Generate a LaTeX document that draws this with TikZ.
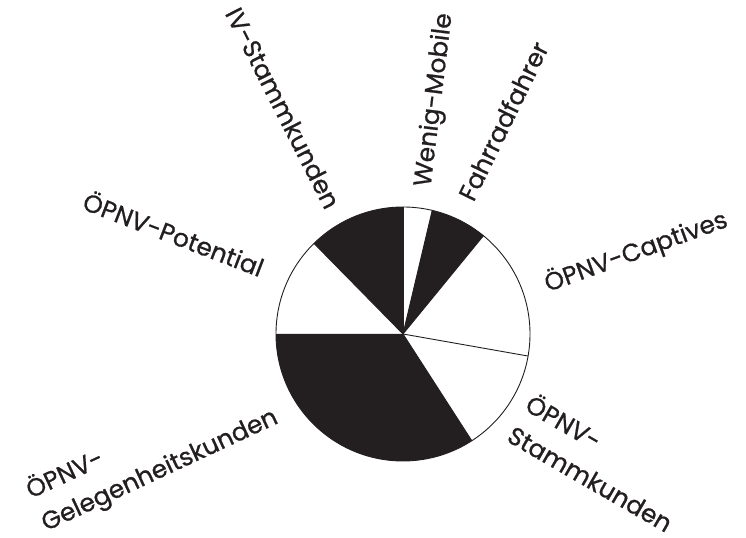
\documentclass[tikz,border=0pt]{standalone}
\usepackage{fontspec}
\setmainfont{Poppins}[FakeBold=0.8]
\definecolor{ink}{RGB}{35,31,32}
\begin{document}
\begin{tikzpicture}[x=1bp,y=1bp,
  lbl/.style={font=\fontsize{25}{36}\selectfont, text=ink, inner sep=0pt, align=left},
  sector/.style={fill=ink},
  rim/.style={draw=ink, line width=0.9bp}]
\useasboundingbox (0,0) rectangle (746,538);
\coordinate (c) at (403,204);
\def\R{127}
% black sectors
\fill[sector] (c) -- ++(50.7:\R) arc[start angle=50.7, end angle=76.7, radius=\R] -- cycle;
\fill[sector] (c) -- ++(90:\R) arc[start angle=90, end angle=134.5, radius=\R] -- cycle;
\fill[sector] (c) -- ++(180:\R) arc[start angle=180, end angle=302.8, radius=\R] -- cycle;
% outline and dividers
\draw[rim] (c) circle[radius=\R];
\foreach \a in {90,76.7,50.7,-10,-57.2,180,134.5}
  \draw[rim] (c) -- ++(\a:\R);
% labels
\node[lbl, rotate=-63] (iv) at (283,430) {IV-Stammkunden};
\node[lbl, rotate=83] (wm) at (435,438) {Wenig-Mobile};
\node[lbl, rotate=64] (fr) at (503,417) {Fahrradfahrer};
\node[lbl, rotate=-21] (pot) at (174,305) {ÖPNV-Potential};
\node[lbl, rotate=20] (cap) at (636,286) {ÖPNV-Captives};
\node[lbl, rotate=25] (gel) at (152,84) {ÖPNV-\\Gelegenheitskunden};
\node[lbl, rotate=-30] (stk) at (600,76) {ÖPNV-\\Stammkunden};
\end{tikzpicture}
\end{document}
